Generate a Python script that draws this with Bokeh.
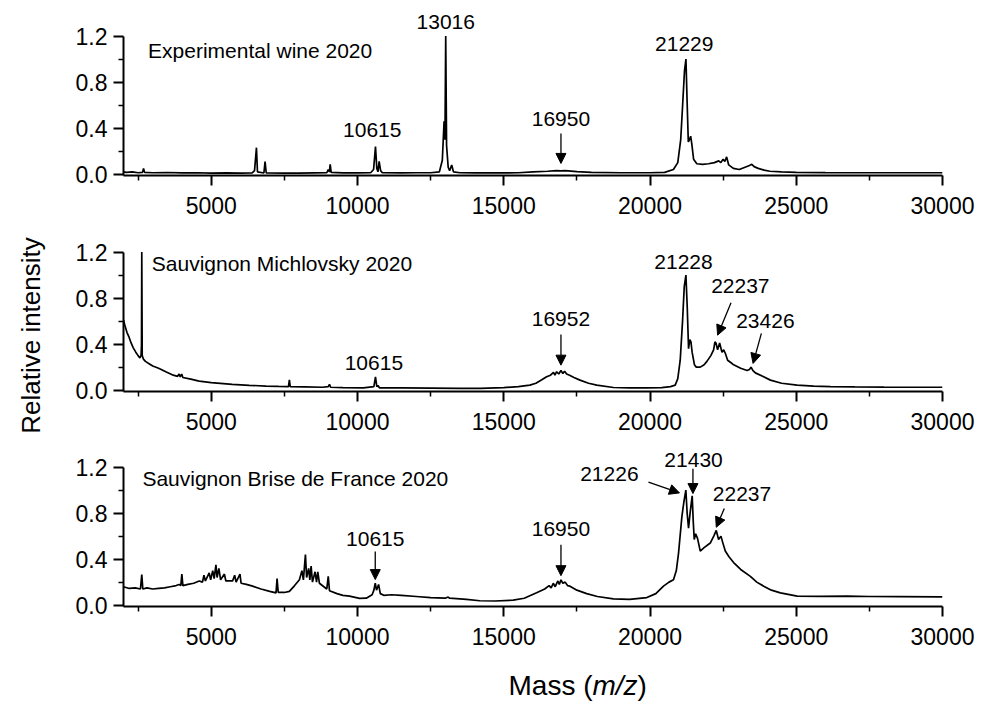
import math
from bokeh.plotting import figure
from bokeh.layouts import column, row
from bokeh.models import (FixedTicker, NumeralTickFormatter, Range1d, Label,
                          Arrow, NormalHead)
from bokeh.embed import file_html
from bokeh.resources import INLINE

# ---------------- data ----------------
x_ticks = [5000, 10000, 15000, 20000, 25000, 30000]
x_minor = [2500, 7500, 12500, 17500, 22500, 27500]
y_ticks = [0.0, 0.4, 0.8, 1.2]
y_minor = [0.2, 0.6, 1.0]

exp_mass = [2000, 2100, 2300, 2500, 2650, 2685, 2720, 3000, 3500, 4000, 4500, 5000, 5500, 6000,
            6400, 6480, 6545, 6580, 6800, 6840, 6880, 7500, 8000, 8500, 8950, 9000, 9040, 9066,
            9100, 9500, 10000, 10450, 10550, 10615, 10660, 10700, 10740, 10790, 10850, 11500,
            12000, 12500, 12800, 12900, 12960, 12990, 13016, 13045, 13100, 13150, 13220, 13280,
            13500, 14000, 15000, 15500, 16000, 16500, 16800, 16950, 17100, 17500, 18000, 19000,
            20000, 20500, 20800, 20950, 21050, 21120, 21180, 21229, 21270, 21310, 21350, 21390,
            21430, 21490, 21600, 21800, 22000, 22200, 22350, 22420, 22500, 22560, 22620, 22690,
            22850, 23050, 23250, 23400, 23480, 23560, 23700, 23900, 24100, 24500, 25000, 26000,
            27000, 28000, 29000, 30000]
exp_int = [0.02, 0.015, 0.02, 0.012, 0.015, 0.05, 0.015, 0.012, 0.014, 0.01, 0.012, 0.008, 0.01, 0.008,
           0.01, 0.03, 0.23, 0.02, 0.01, 0.11, 0.01, 0.008, 0.008, 0.01, 0.012, 0.04, 0.02, 0.085,
           0.015, 0.01, 0.01, 0.012, 0.04, 0.24, 0.05, 0.02, 0.11, 0.03, 0.012, 0.01,
           0.012, 0.012, 0.02, 0.12, 0.46, 0.3, 1.2, 0.25, 0.06, 0.03, 0.08, 0.02,
           0.012, 0.01, 0.01, 0.012, 0.02, 0.025, 0.03, 0.028, 0.03, 0.022, 0.015, 0.012,
           0.012, 0.015, 0.04, 0.1, 0.3, 0.62, 0.9, 1.0, 0.62, 0.28, 0.3, 0.33,
           0.26, 0.13, 0.09, 0.085, 0.09, 0.1, 0.115, 0.1, 0.13, 0.11, 0.15, 0.08,
           0.05, 0.04, 0.06, 0.075, 0.085, 0.065, 0.05, 0.035, 0.025, 0.02, 0.015, 0.013,
           0.012, 0.012, 0.012, 0.012]

mich_mass = [2000, 2060, 2120, 2190, 2260, 2330, 2420, 2500, 2560, 2600, 2615, 2625, 2640, 2680,
             2750, 2875, 3000, 3200, 3447, 3700, 3850, 3900, 3940, 3990, 4030, 4300, 4588, 5000,
             5719, 6300, 6873, 7300, 7640, 7671, 7700, 8200, 8800, 9000, 9042, 9080, 9500, 10200,
             10560, 10615, 10660, 10700, 10750, 11500, 12500, 13500, 14200, 15000, 15500, 15894,
             16100, 16300, 16465, 16600, 16700, 16750, 16808, 16880, 16956, 17020, 17080, 17150,
             17250, 17400, 17607, 17900, 18179, 18750, 19300, 19892, 20400, 20700, 20862, 20950,
             21033, 21113, 21171, 21228, 21273, 21318, 21360, 21400, 21440, 21520, 21581, 21718,
             21850, 21946, 22080, 22174, 22220, 22256, 22311, 22380, 22430, 22461, 22520, 22575,
             22654, 22760, 22859, 23100, 23318, 23400, 23455, 23520, 23603, 23850, 24116, 24500,
             25030, 25600, 26172, 27000, 28000, 29000, 30000]
mich_int = [0.61, 0.55, 0.5, 0.46, 0.41, 0.37, 0.33, 0.30, 0.28, 0.3, 0.39, 1.2, 0.3, 0.27,
            0.25, 0.23, 0.21, 0.19, 0.16, 0.13, 0.12, 0.14, 0.115, 0.14, 0.11, 0.095, 0.078, 0.065,
            0.05, 0.042, 0.035, 0.032, 0.03, 0.09, 0.03, 0.028, 0.025, 0.03, 0.05, 0.025, 0.022, 0.02,
            0.03, 0.116, 0.03, 0.04, 0.02, 0.02, 0.018, 0.016, 0.016, 0.022, 0.03, 0.043,
            0.06, 0.09, 0.116, 0.13, 0.155, 0.13, 0.16, 0.14, 0.17, 0.145, 0.165, 0.14,
            0.13, 0.11, 0.087, 0.06, 0.043, 0.023, 0.02, 0.02, 0.022, 0.03, 0.043, 0.1,
            0.26, 0.6, 0.9, 1.0, 0.72, 0.36, 0.44, 0.42, 0.33, 0.22, 0.2, 0.2,
            0.22, 0.25, 0.3, 0.35, 0.42, 0.41, 0.35, 0.41, 0.36, 0.33, 0.35, 0.32,
            0.26, 0.24, 0.22, 0.19, 0.17, 0.18, 0.2, 0.17, 0.15, 0.12, 0.087, 0.06,
            0.043, 0.035, 0.03, 0.028, 0.026, 0.025, 0.025]

brise_mass = [2000, 2200, 2400, 2580, 2625, 2660, 2800, 3000, 3200, 3400, 3600, 3800, 3903, 3960,
              3995, 4030, 4200, 4400, 4588, 4700, 4750, 4800, 4930, 4980, 5050, 5100, 5160, 5200,
              5260, 5320, 5450, 5500, 5729, 5800, 5850, 5982, 6020, 6200, 6414, 6700, 7000, 7215,
              7250, 7290, 7500, 7671, 7850, 8014, 8100, 8150, 8220, 8260, 8330, 8370, 8414, 8460,
              8550, 8600, 8643, 8699, 8850, 8950, 9000, 9042, 9300, 9500, 9727, 10070, 10300, 10500,
              10560, 10607, 10650, 10721, 10780, 10900, 11155, 11500, 12012, 12500, 13000, 13100,
              13150, 13725, 14181, 14700, 15323, 15700, 16123, 16400, 16550, 16620, 16693, 16760,
              16850, 16900, 16956, 17020, 17100, 17180, 17264, 17500, 17836, 18200, 18750, 19300,
              19892, 20200, 20461, 20650, 20803, 20900, 20975, 21090, 21160, 21226, 21270, 21318,
              21370, 21442, 21480, 21512, 21560, 21625, 21718, 21850, 22060, 22180, 22265, 22344,
              22426, 22480, 22574, 22700, 22859, 23100, 23431, 23650, 23887, 24150, 24459, 25030,
              25800, 26743, 27500, 28500, 29940, 30000]
brise_int = [0.16, 0.145, 0.15, 0.14, 0.265, 0.14, 0.15, 0.14, 0.145, 0.15, 0.16, 0.17, 0.18, 0.17,
             0.27, 0.17, 0.18, 0.19, 0.21, 0.2, 0.26, 0.21, 0.28, 0.22, 0.3, 0.23, 0.35, 0.24,
             0.32, 0.22, 0.27, 0.21, 0.21, 0.26, 0.2, 0.27, 0.19, 0.18, 0.165, 0.14, 0.12, 0.107,
             0.23, 0.11, 0.11, 0.12, 0.17, 0.22, 0.3, 0.22, 0.44, 0.24, 0.32, 0.22, 0.34, 0.2,
             0.29, 0.2, 0.29, 0.19, 0.16, 0.14, 0.25, 0.125, 0.1, 0.085, 0.078, 0.058, 0.06, 0.09,
             0.13, 0.19, 0.13, 0.18, 0.1, 0.085, 0.09, 0.085, 0.075, 0.065, 0.06, 0.07,
             0.06, 0.05, 0.038, 0.036, 0.043, 0.06, 0.107, 0.14, 0.17, 0.15, 0.19, 0.16,
             0.21, 0.18, 0.22, 0.19, 0.2, 0.17, 0.165, 0.13, 0.1, 0.075, 0.055, 0.05,
             0.066, 0.1, 0.165, 0.2, 0.22, 0.3, 0.45, 0.77, 0.9, 1.0, 0.8, 0.67,
             0.8, 0.95, 0.72, 0.57, 0.62, 0.58, 0.47, 0.5, 0.54, 0.6, 0.65, 0.57,
             0.6, 0.55, 0.47, 0.42, 0.37, 0.31, 0.25, 0.2, 0.165, 0.13, 0.107, 0.078,
             0.076, 0.078, 0.075, 0.074, 0.072, 0.072]

panel_titles = ["Experimental wine 2020", "Sauvignon Michlovsky 2020", "Sauvignon Brise de France 2020"]
title_x = [2841, 2967, 2646]
title_y = [1.078, 1.10, 1.10]

exp_lbl = ["13016", "10615", "16950", "21229"]
exp_lbl_x = [13016, 10505, 16956, 21170]
exp_lbl_y = [1.32, 0.38, 0.48, 1.128]
exp_arr = [(16956, 0.354, 16956, 0.093)]

mich_lbl = ["21228", "22237", "16952", "23426", "10615"]
mich_lbl_x = [21146, 23088, 16956, 23945, 10560]
mich_lbl_y = [1.116, 0.907, 0.617, 0.60, 0.24]
mich_arr = [(16956, 0.484, 16956, 0.217), (22770, 0.76, 22311, 0.478), (23808, 0.493, 23524, 0.232)]

brise_lbl = ["21430", "21226", "22237", "16950", "10615"]
brise_lbl_x = [21489, 18611, 23146, 16956, 10607]
brise_lbl_y = [1.258, 1.143, 0.97, 0.66, 0.576]
brise_arr = [(21468, 1.186, 21468, 0.97), (19947, 1.07, 21008, 0.976), (22540, 0.84, 22266, 0.677),
             (16956, 0.524, 16956, 0.256), (10607, 0.466, 10607, 0.222)]

FONT = "Liberation Sans"
PX_PER_UNIT = 115.0
Y0 = -0.012
LEFT_STRIP = 50
MAIN_W = 989 - LEFT_STRIP


def make_panel(mass, inten, ttl, tx, ty, lbl, lx, ly, arrows, height, bottom):
    frame_h = height - bottom
    ytop = Y0 + frame_h / PX_PER_UNIT
    p = figure(width=MAIN_W, height=height,
               x_range=Range1d(2000, 30000), y_range=Range1d(Y0, ytop),
               output_backend="svg", toolbar_location=None,
               min_border_left=123 - LEFT_STRIP, min_border_right=47,
               min_border_top=0, min_border_bottom=bottom)
    p.frame_align = False
    p.title.visible = False
    p.outline_line_color = None
    p.xgrid.visible = False
    p.ygrid.visible = False
    p.background_fill_color = "white"
    p.border_fill_color = "white"
    for ax, tk, mn in ((p.xaxis[0], x_ticks, x_minor), (p.yaxis[0], y_ticks, y_minor)):
        ax.ticker = FixedTicker(ticks=tk, minor_ticks=mn)
        ax.axis_line_width = 2
        ax.axis_line_color = "black"
        ax.major_tick_line_width = 2
        ax.minor_tick_line_width = 1.5
        ax.major_tick_line_color = "black"
        ax.minor_tick_line_color = "black"
        ax.major_tick_out = 10
        ax.major_tick_in = 0
        ax.minor_tick_out = 5
        ax.minor_tick_in = 0
        ax.major_label_text_font = FONT
        ax.major_label_text_font_size = "23px"
        ax.major_label_text_color = "black"
    p.yaxis[0].formatter = NumeralTickFormatter(format="0.0")
    p.yaxis[0].bounds = (Y0, 1.2)
    p.xaxis[0].major_label_standoff = 11
    p.yaxis[0].major_label_standoff = 6

    p.line(mass, inten, line_color="black", line_width=1.7)

    p.add_layout(Label(x=tx, y=ty, text=ttl, text_font=FONT, text_font_size="21px",
                       text_align="left", text_baseline="middle", text_color="black"))
    for t, xx, yy in zip(lbl, lx, ly):
        p.add_layout(Label(x=xx, y=yy, text=t, text_font=FONT, text_font_size="21px",
                           text_align="center", text_baseline="middle", text_color="black"))
    for (x0, y0, x1, y1) in arrows:
        p.add_layout(Arrow(x_start=x0, y_start=y0, x_end=x1, y_end=y1,
                           line_color="black", line_width=1.3,
                           end=NormalHead(size=10, fill_color="black", line_color="black",
                                          line_width=1)))
    return p


# canvases: p1 0-222 (frame 0-175), p2 222-440 (frame to 391), p3 440-656 (frame to 606)
p1 = make_panel(exp_mass, exp_int, panel_titles[0], title_x[0], title_y[0],
                exp_lbl, exp_lbl_x, exp_lbl_y, exp_arr, 222, 47)
p2 = make_panel(mich_mass, mich_int, panel_titles[1], title_x[1], title_y[1],
                mich_lbl, mich_lbl_x, mich_lbl_y, mich_arr, 218, 49)
p3 = make_panel(brise_mass, brise_int, panel_titles[2], title_x[2], title_y[2],
                brise_lbl, brise_lbl_x, brise_lbl_y, brise_arr, 216, 50)

BOTTOM_H = 705 - 656


def strip(w, h):
    s = figure(width=w, height=h, x_range=Range1d(0, w), y_range=Range1d(0, h),
               x_axis_type=None, y_axis_type=None, output_backend="svg",
               toolbar_location=None, min_border=0)
    s.min_border_left = s.min_border_right = s.min_border_top = s.min_border_bottom = 0
    s.frame_align = False
    s.title.visible = False
    s.outline_line_color = None
    s.background_fill_color = "white"
    s.border_fill_color = "white"
    return s


# y axis title shared by the three panels
left = strip(LEFT_STRIP, 705)
left.add_layout(Label(x=30, y=705 - 335, text="Relative intensity", angle=math.pi / 2,
                      text_font=FONT, text_font_size="26px", text_align="center",
                      text_baseline="alphabetic", text_color="black"))

# x axis title with italic m/z (baseline placed from the top of the strip)
bottom = strip(MAIN_W, BOTTOM_H)
mx, my = 508 - LEFT_STRIP, 20
bottom.add_layout(Label(x=mx, y=my, text="Mass (", text_font=FONT, text_font_size="28px",
                        text_align="left", text_baseline="alphabetic", text_color="black"))
bottom.add_layout(Label(x=mx, y=my, x_offset=84, text="m/z", text_font=FONT,
                        text_font_size="28px", text_font_style="italic", text_align="left",
                        text_baseline="alphabetic", text_color="black"))
bottom.add_layout(Label(x=mx, y=my, x_offset=129, text=")", text_font=FONT,
                        text_font_size="28px", text_align="left", text_baseline="alphabetic",
                        text_color="black"))

layout = row(left, column(p1, p2, p3, bottom, spacing=0), spacing=0)
open("out.html", "w").write(file_html(layout, INLINE))
